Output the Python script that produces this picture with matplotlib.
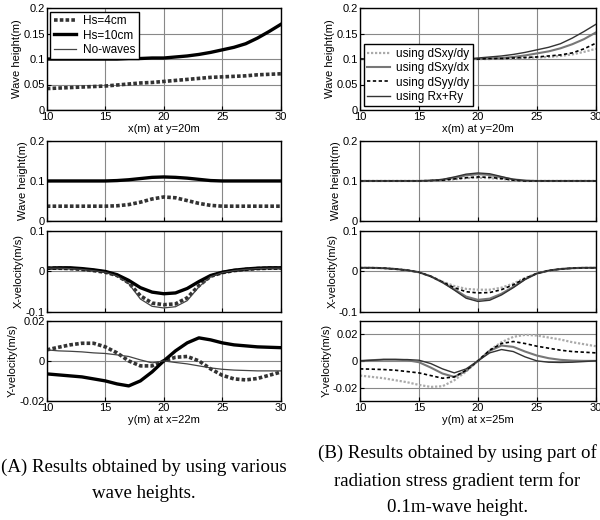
import matplotlib.pyplot as plt
import numpy as np

plt.rcParams['font.family'] = ['Liberation Sans', 'DejaVu Sans']
plt.rcParams['font.size'] = 8

# positions along the sections (m)
pos = np.arange(10, 31)

# (A) wave height along x at y=20m
a1_hs4 = [0.042, 0.043, 0.044, 0.045, 0.046, 0.047, 0.049, 0.051, 0.053, 0.054, 0.056,
          0.058, 0.060, 0.062, 0.064, 0.065, 0.066, 0.067, 0.069, 0.070, 0.071]
a1_hs10 = [0.100, 0.100, 0.100, 0.100, 0.100, 0.100, 0.100, 0.101, 0.101, 0.102, 0.102,
           0.104, 0.106, 0.109, 0.113, 0.118, 0.123, 0.130, 0.141, 0.154, 0.168]
a1_none = [0.0] * 21

# (A) wave height along y at x=22m
a2_hs4 = [0.037, 0.037, 0.037, 0.037, 0.037, 0.037, 0.038, 0.041, 0.047, 0.055, 0.060,
          0.058, 0.051, 0.044, 0.039, 0.037, 0.037, 0.037, 0.037, 0.037, 0.037]
a2_hs10 = [0.100, 0.100, 0.100, 0.100, 0.100, 0.100, 0.101, 0.103, 0.106, 0.109, 0.110,
           0.109, 0.107, 0.104, 0.101, 0.100, 0.100, 0.100, 0.100, 0.100, 0.100]
a2_none = [0.0] * 21

# (A) X-velocity
a3_hs4 = [0.008, 0.008, 0.007, 0.005, 0.002, -0.002, -0.010, -0.028, -0.060, -0.078, -0.082,
          -0.080, -0.065, -0.035, -0.012, -0.003, 0.002, 0.005, 0.007, 0.008, 0.008]
a3_hs10 = [0.008, 0.009, 0.009, 0.007, 0.004, 0.000, -0.008, -0.022, -0.040, -0.051, -0.055,
           -0.053, -0.042, -0.025, -0.010, -0.002, 0.003, 0.006, 0.008, 0.009, 0.009]
a3_none = [0.008, 0.008, 0.007, 0.005, 0.002, -0.002, -0.011, -0.030, -0.068, -0.086, -0.090,
           -0.087, -0.072, -0.038, -0.013, -0.003, 0.002, 0.005, 0.007, 0.008, 0.008]

# (A) Y-velocity
a4_hs4 = [0.0055, 0.0068, 0.0080, 0.0088, 0.0088, 0.0070, 0.0040, 0.0000, -0.0025, -0.0025, 0.0000,
          0.0018, 0.0022, 0.0000, -0.0040, -0.0072, -0.0090, -0.0095, -0.0088, -0.0072, -0.0056]
a4_hs10 = [-0.0065, -0.0070, -0.0075, -0.0080, -0.0090, -0.0100, -0.0115, -0.0125, -0.0100, -0.0055, 0.0000,
           0.0050, 0.0090, 0.0115, 0.0105, 0.0090, 0.0080, 0.0075, 0.0070, 0.0068, 0.0066]
a4_none = [0.0055, 0.0050, 0.0048, 0.0045, 0.0040, 0.0037, 0.0030, 0.0022, 0.0005, -0.0010, 0.0000,
           -0.0008, -0.0015, -0.0025, -0.0035, -0.0042, -0.0046, -0.0048, -0.0050, -0.0050, -0.0050]

# (B) wave height along x at y=20m
b1_sxydy = [0.100] * 10 + [0.100, 0.100, 0.101, 0.101, 0.102, 0.103, 0.104, 0.106, 0.109, 0.114, 0.120]
b1_sxydx = [0.100] * 10 + [0.100, 0.101, 0.102, 0.104, 0.107, 0.111, 0.115, 0.121, 0.129, 0.139, 0.152]
b1_syydy = [0.100] * 10 + [0.100, 0.101, 0.101, 0.102, 0.103, 0.104, 0.106, 0.108, 0.112, 0.120, 0.131]
b1_rxry = [0.100] * 10 + [0.102, 0.104, 0.106, 0.109, 0.113, 0.118, 0.123, 0.130, 0.141, 0.154, 0.168]

# (B) wave height along y at x=25m
b2_sxydy = [0.100] * 6 + [0.101, 0.102, 0.104, 0.107, 0.108, 0.107, 0.105, 0.102, 0.100] + [0.100] * 6
b2_sxydx = [0.100] * 6 + [0.101, 0.103, 0.108, 0.114, 0.117, 0.115, 0.109, 0.104, 0.101] + [0.100] * 6
b2_syydy = [0.100] * 6 + [0.101, 0.102, 0.105, 0.108, 0.110, 0.109, 0.106, 0.102, 0.100] + [0.100] * 6
b2_rxry = [0.100] * 6 + [0.101, 0.104, 0.110, 0.117, 0.120, 0.118, 0.111, 0.104, 0.101] + [0.100] * 6

# (B) X-velocity
b3_sxydy = [0.009, 0.009, 0.008, 0.006, 0.003, -0.002, -0.012, -0.025, -0.036, -0.043, -0.045,
            -0.045, -0.040, -0.030, -0.016, -0.005, 0.002, 0.006, 0.008, 0.009, 0.009]
b3_sxydx = [0.009, 0.009, 0.008, 0.006, 0.003, -0.002, -0.012, -0.027, -0.044, -0.062, -0.070,
            -0.067, -0.055, -0.038, -0.019, -0.005, 0.002, 0.006, 0.008, 0.009, 0.009]
b3_syydy = [0.009, 0.009, 0.008, 0.006, 0.003, -0.002, -0.012, -0.026, -0.040, -0.050, -0.053,
            -0.052, -0.045, -0.033, -0.017, -0.005, 0.002, 0.006, 0.008, 0.009, 0.009]
b3_rxry = [0.009, 0.009, 0.008, 0.006, 0.003, -0.002, -0.012, -0.027, -0.046, -0.066, -0.074,
           -0.071, -0.058, -0.040, -0.020, -0.005, 0.002, 0.006, 0.008, 0.009, 0.009]

# (B) Y-velocity
b4_sxydy = [-0.0110, -0.0120, -0.0130, -0.0145, -0.0160, -0.0180, -0.0195, -0.0190, -0.0145, -0.0080, 0.0000,
            0.0080, 0.0140, 0.0180, 0.0195, 0.0190, 0.0175, 0.0160, 0.0140, 0.0125, 0.0110]
b4_sxydx = [0.0000, 0.0005, 0.0010, 0.0010, 0.0005, -0.0010, -0.0050, -0.0095, -0.0120, -0.0075, 0.0000,
            0.0075, 0.0115, 0.0105, 0.0070, 0.0040, 0.0020, 0.0008, 0.0002, 0.0000, 0.0000]
b4_syydy = [-0.0060, -0.0062, -0.0065, -0.0070, -0.0080, -0.0090, -0.0110, -0.0130, -0.0120, -0.0070, 0.0000,
            0.0080, 0.0130, 0.0145, 0.0130, 0.0110, 0.0095, 0.0080, 0.0070, 0.0065, 0.0060]
b4_rxry = [0.0000, 0.0005, 0.0010, 0.0010, 0.0010, 0.0005, -0.0020, -0.0060, -0.0090, -0.0060, 0.0000,
           0.0060, 0.0085, 0.0070, 0.0030, 0.0000, -0.0010, -0.0012, -0.0010, -0.0005, 0.0000]

labels_a = ['Hs=4cm', 'Hs=10cm', 'No-waves']
labels_b = ['using dSxy/dy', 'using dSxy/dx', 'using dSyy/dy', 'using Rx+Ry']

style_a = [dict(color='#333333', lw=2.6, ls=(0, (1, 0.6))),
           dict(color='black', lw=2.4, ls='-'),
           dict(color='#444444', lw=0.9, ls='-')]
style_b = [dict(color='#aaaaaa', lw=1.6, ls=(0, (1, 0.8))),
           dict(color='#777777', lw=1.5, ls='-'),
           dict(color='black', lw=1.2, ls=(0, (2, 1.5))),
           dict(color='#333333', lw=1.0, ls='-')]

fig = plt.figure(figsize=(6, 5.2), dpi=100)

rows = [(0.7885, 0.196), (0.575, 0.154), (0.400, 0.156), (0.229, 0.154)]
cols = [(0.078, 0.390), (0.600, 0.393)]

ylims = {
    'a': [(0, 0.2), (0, 0.2), (-0.1, 0.1), (-0.02, 0.02)],
    'b': [(0, 0.2), (0, 0.2), (-0.1, 0.1), (-0.03, 0.03)],
}
yticks = [[0, 0.05, 0.1, 0.15, 0.2], [0, 0.1, 0.2], [-0.1, 0, 0.1], [-0.02, 0, 0.02]]
ylabels = ['Wave height(m)', 'Wave height(m)', 'X-velocity(m/s)', 'Y-velocity(m/s)']

data_a = [[a1_hs4, a1_hs10, a1_none], [a2_hs4, a2_hs10, a2_none],
          [a3_hs4, a3_hs10, a3_none], [a4_hs4, a4_hs10, a4_none]]
data_b = [[b1_sxydy, b1_sxydx, b1_syydy, b1_rxry], [b2_sxydy, b2_sxydx, b2_syydy, b2_rxry],
          [b3_sxydy, b3_sxydx, b3_syydy, b3_rxry], [b4_sxydy, b4_sxydx, b4_syydy, b4_rxry]]


def fmt(v):
    return '0' if v == 0 else ('%g' % v)


for ci, (key, data, styles, labels, xlab4) in enumerate([
        ('a', data_a, style_a, labels_a, 'y(m) at x=22m'),
        ('b', data_b, style_b, labels_b, 'y(m) at x=25m')]):
    left, width = cols[ci]
    for ri, (bottom, height) in enumerate(rows):
        ax = fig.add_axes([left, bottom, width, height])
        for series, st, lab in zip(data[ri], styles, labels):
            ax.plot(pos, series, label=lab, **st)
        ax.set_xlim(10, 30)
        ax.set_ylim(*ylims[key][ri])
        ax.set_xticks([10, 15, 20, 25, 30])
        ax.set_yticks(yticks[ri])
        ax.set_yticklabels([fmt(v) for v in yticks[ri]])
        ax.grid(True, color='#888888', lw=0.8)
        ax.tick_params(direction='in', length=3, pad=1.5, labelsize=8)
        for sp in ax.spines.values():
            sp.set_linewidth(1.0)
        ax.set_ylabel(ylabels[ri], fontsize=8, labelpad=1)
        if ri == 0:
            ax.set_xlabel('x(m) at y=20m', fontsize=8, labelpad=1.5)
            leg_loc = 'upper left' if key == 'a' else 'lower left'
            ax.legend(loc=leg_loc, fontsize=8.5, frameon=True, fancybox=False,
                      edgecolor='black', framealpha=1, borderaxespad=0.3,
                      handlelength=1.9, handletextpad=0.55, labelspacing=0.2,
                      borderpad=0.3)
        elif ri == 3:
            ax.set_xlabel(xlab4, fontsize=8, labelpad=1.5)
        else:
            ax.set_xticklabels([])

cap = dict(family=['Liberation Serif', 'DejaVu Serif'], fontsize=13.6, ha='center', va='center')
fig.text(0.240, 1 - 467 / 520, '(A) Results obtained by using various', **cap)
fig.text(0.240, 1 - 494 / 520, 'wave heights.', **cap)
fig.text(0.762, 1 - 453 / 520, '(B) Results obtained by using part of', **cap)
fig.text(0.762, 1 - 481 / 520, 'radiation stress gradient term for', **cap)
fig.text(0.762, 1 - 508 / 520, '0.1m-wave height.', **cap)

fig.savefig('out.png', dpi=100)
